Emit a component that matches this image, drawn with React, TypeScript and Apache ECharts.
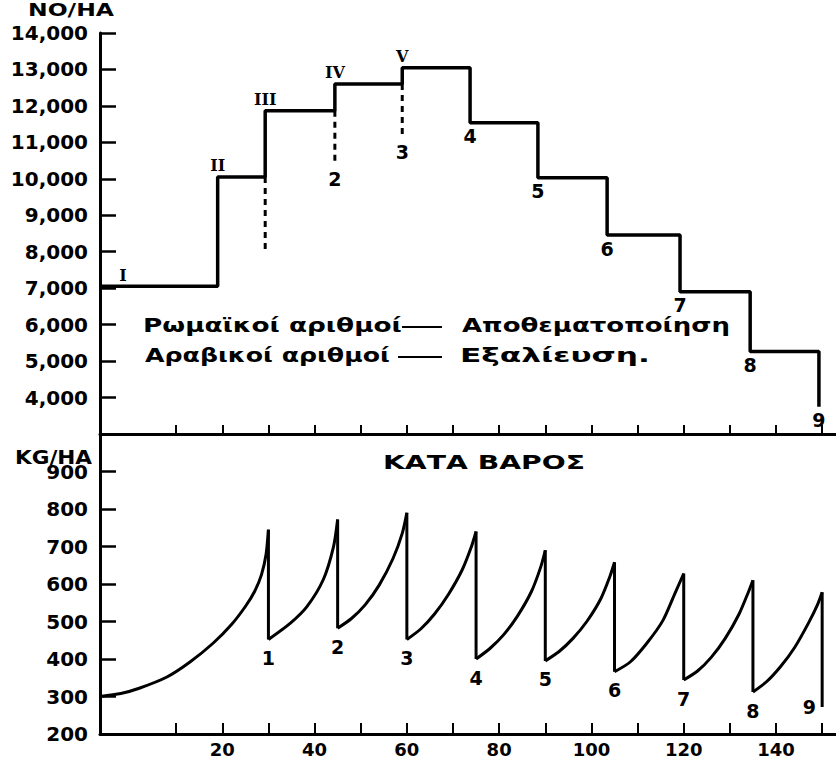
import React, { useEffect, useRef } from "react";
import * as echarts from "echarts";

// ---------- shared time axis ----------
const X_MIN = -6.5;
const X_MAX = 153;
const xTickValues = [10, 20, 30, 40, 50, 60, 70, 80, 90, 100, 110, 120, 130, 140, 150];
const xLabelValues = [20, 40, 60, 80, 100, 120, 140];

// ---------- upper panel: numbers per hectare ----------
const countEventTimes = [19, 29.3, 44.4, 59, 73.7, 88.4, 103.4, 119.2, 134.4, 149.3];
const countLevels = [7050, 10050, 11870, 12600, 13050, 11540, 10030, 8460, 6900, 5260, 3750];
const romanLabels = ["I", "II", "III", "IV", "V"];
const harvestDashEnds = [8000, 10380, 11120];
const upperHarvestLabels = ["2", "3", "4", "5", "6", "7", "8", "9"];

// ---------- lower panel: weight per hectare ----------
const startKg = 300;
const harvestTimes = [30, 45, 60, 75, 90, 105, 120, 135, 150];
const peakKg = [745, 772, 790, 740, 690, 658, 628, 610, 578];
const afterHarvestKg = [452, 482, 452, 400, 395, 366, 344, 312, 272];
const lowerHarvestLabels = ["1", "2", "3", "4", "5", "6", "7", "8", "9"];
const growth1 = [[-2, 308], [2, 322], [8, 352], [13, 392], [18, 442], [22, 492], [25, 540], [27, 580], [28.5, 625], [29.5, 680]];
const growth2 = [[34.7, 495], [38.3, 539], [41.9, 612], [44.1, 699]];
const growth3 = [[48, 508], [51, 545], [54, 597], [57, 668], [59, 735]];
const growth4 = [[63, 480], [66, 520], [69, 572], [72, 638], [74, 700]];
const growth5 = [[78, 428], [81, 465], [84, 515], [87, 580], [89, 645]];
const growth6 = [[93, 420], [96, 455], [99, 500], [102, 560], [104, 620]];
const growth7 = [[108.4, 392], [112, 442], [115.5, 503], [118.1, 575]];
const growth8 = [[123, 368], [126, 405], [129, 455], [132, 520], [134, 578]];
const growth9 = [[138, 340], [141, 380], [144, 430], [147, 495], [149, 545]];
const growthSegments = [growth1, growth2, growth3, growth4, growth5, growth6, growth7, growth8, growth9];

// ---------- texts ----------
const upperUnit = "NO/HA";
const lowerUnit = "KG/HA";
const lowerTitle = "ΚΑΤΑ ΒΑΡΟΣ";
const legendLeft = ["Ρωμαϊκοί αριθμοί", "Αραβικοί αριθμοί"];
const legendRight = ["Αποθεματοποίηση", "Εξαλίευση."];

const FAMILY = '"DejaVu Sans", sans-serif';
const BLACK = "#000";

function measure(text: string, size: number, weight: string): number {
  const ctx = document.createElement("canvas").getContext("2d")!;
  ctx.font = `${weight} ${size}px "DejaVu Sans"`;
  return ctx.measureText(text).width;
}

function fitText(text: string, x: number, y: number, size: number, weight: string, width: number) {
  const w = measure(text, size, weight);
  return {
    type: "text",
    x,
    y,
    scaleX: width / w,
    style: {
      text,
      fontSize: size,
      fontFamily: FAMILY,
      fontWeight: weight,
      fill: BLACK,
      align: "left",
      verticalAlign: "middle",
      textAlign: "left",
      textVerticalAlign: "middle",
    },
  };
}

function buildOption() {
  const steps: number[][] = [[X_MIN, countLevels[0]]];
  countEventTimes.forEach((t, i) => {
    steps.push([t, countLevels[i]], [t, countLevels[i + 1]]);
  });

  const numLabel = {
    show: true,
    fontFamily: FAMILY,
    fontWeight: "bold",
    fontSize: 19,
    color: BLACK,
    opacity: 1,
  };

  const romanData = romanLabels.map((r, i) => {
    const pt = i === 0 ? [X_MIN, countLevels[0]] : [countEventTimes[i - 1], countLevels[i]];
    return {
      value: pt,
      label: {
        ...numLabel,
        formatter: r,
        fontFamily: '"DejaVu Serif", serif',
        fontSize: 16,
        position: "top",
        distance: 3,
        offset: i === 0 ? [23, 0] : [0, 0],
      },
    };
  });

  const upperNumPts: number[][] = [
    [countEventTimes[2], harvestDashEnds[1]],
    [countEventTimes[3], harvestDashEnds[2]],
    ...countEventTimes.slice(4).map((t, i) => [t, countLevels[i + 5]]),
  ];
  const upperNumData = upperNumPts.map((p, i) => ({
    value: p,
    label: { ...numLabel, formatter: upperHarvestLabels[i], position: "bottom", distance: 4 },
  }));

  const dashSeries = harvestDashEnds.map((end, k) => ({
    type: "line",
    xAxisIndex: 0,
    yAxisIndex: 0,
    symbol: "none",
    lineStyle: { color: BLACK, width: 3, type: [6, 5] },
    data: [
      [countEventTimes[k + 1], countLevels[k + 1]],
      [countEventTimes[k + 1], end],
    ],
    silent: true,
  }));

  const growthSeries = growthSegments.map((seg, i) => {
    const start = i === 0 ? [X_MIN, startKg] : [harvestTimes[i - 1], afterHarvestKg[i - 1]];
    return {
      type: "line",
      xAxisIndex: 1,
      yAxisIndex: 1,
      symbol: "none",
      smooth: 0.25,
      lineStyle: { color: BLACK, width: 3 },
      data: [start, ...seg, [harvestTimes[i], peakKg[i]]],
      silent: true,
    };
  });

  const dropSeries = harvestTimes.map((t, i) => ({
    type: "line",
    xAxisIndex: 1,
    yAxisIndex: 1,
    symbol: "none",
    lineStyle: { color: BLACK, width: 3 },
    data: [
      [t, peakKg[i]],
      [t, afterHarvestKg[i]],
    ],
    silent: true,
  }));

  const lowerNumData = harvestTimes.map((t, i) => ({
    value: [t, afterHarvestKg[i]],
    label: {
      ...numLabel,
      formatter: lowerHarvestLabels[i],
      position: i === harvestTimes.length - 1 ? "left" : "bottom",
      distance: i === harvestTimes.length - 1 ? 6 : 9,
    },
  }));

  const axisLabelStyle = {
    fontFamily: FAMILY,
    fontWeight: "bold",
    fontSize: 20,
    color: BLACK,
  };

  const xAxisBase = {
    type: "value",
    min: X_MIN,
    max: X_MAX,
    axisLine: { show: true, onZero: false, lineStyle: { color: BLACK, width: 3 } },
    splitLine: { show: false },
  };

  const labelHolder = {
    type: "scatter",
    symbolSize: 0.1,
    itemStyle: { color: BLACK },
    silent: true,
  };

  return {
    animation: false,
    backgroundColor: "#fff",
    grid: [
      { left: 100, right: 0, top: 33, height: 401 },
      { left: 100, right: 0, top: 434, height: 300 },
    ],
    xAxis: [
      {
        ...xAxisBase,
        gridIndex: 0,
        axisTick: { show: true, inside: true, length: 9, customValues: xTickValues, lineStyle: { color: BLACK, width: 2 } },
        axisLabel: { show: false },
      },
      {
        ...xAxisBase,
        gridIndex: 1,
        axisTick: { show: true, inside: true, length: 11, customValues: xTickValues, lineStyle: { color: BLACK, width: 2 } },
        axisLabel: { ...axisLabelStyle, fontSize: 18, show: true, customValues: xLabelValues, margin: 6 },
      },
    ],
    yAxis: [
      {
        type: "value",
        gridIndex: 0,
        min: 3000,
        max: 14000,
        interval: 1000,
        axisLine: { show: true, onZero: false, lineStyle: { color: BLACK, width: 3 } },
        axisTick: { show: true, inside: true, length: 16, lineStyle: { color: BLACK, width: 2.5 } },
        axisLabel: {
          ...axisLabelStyle,
          margin: 12,
          formatter: (v: number) => (v === 3000 ? "" : v.toLocaleString("en-US")),
        },
        splitLine: { show: false },
      },
      {
        type: "value",
        gridIndex: 1,
        min: 200,
        max: 1000,
        interval: 100,
        axisLine: { show: true, onZero: false, lineStyle: { color: BLACK, width: 3 } },
        axisTick: { show: true, inside: true, length: 16, lineStyle: { color: BLACK, width: 2.5 } },
        axisLabel: {
          ...axisLabelStyle,
          margin: 12,
          formatter: (v: number) => (v === 1000 ? "" : String(v)),
        },
        splitLine: { show: false },
      },
    ],
    graphic: [
      fitText(upperUnit, 28, 10, 18, "bold", 86),
      fitText(lowerUnit, 15, 457, 19, "bold", 77),
      fitText(lowerTitle, 383, 462, 20, "bold", 202),
      fitText(legendLeft[0], 143, 325, 19, "bold", 259),
      fitText(legendRight[0], 462, 325, 19, "bold", 268),
      fitText(legendLeft[1], 145, 355, 19, "bold", 245),
      fitText(legendRight[1], 460, 355, 19, "bold", 190),
      { type: "line", shape: { x1: 402, y1: 327, x2: 442, y2: 327 }, style: { stroke: BLACK, lineWidth: 2 } },
      { type: "line", shape: { x1: 398, y1: 357, x2: 442, y2: 357 }, style: { stroke: BLACK, lineWidth: 2 } },
    ],
    series: [
      {
        type: "line",
        xAxisIndex: 0,
        yAxisIndex: 0,
        symbol: "none",
        lineStyle: { color: BLACK, width: 3.5 },
        data: steps,
        silent: true,
      },
      ...dashSeries,
      { ...labelHolder, xAxisIndex: 0, yAxisIndex: 0, data: [...romanData, ...upperNumData] },
      ...growthSeries,
      ...dropSeries,
      { ...labelHolder, xAxisIndex: 1, yAxisIndex: 1, data: lowerNumData },
    ],
  };
}

export default function App() {
  const ref = useRef<HTMLDivElement>(null);
  useEffect(() => {
    document.body.style.margin = "0";
    const chart = echarts.init(ref.current!, null, { renderer: "svg" });
    chart.setOption(buildOption() as any);
    return () => chart.dispose();
  }, []);
  return <div ref={ref} style={{ width: 836, height: 762 }} />;
}
